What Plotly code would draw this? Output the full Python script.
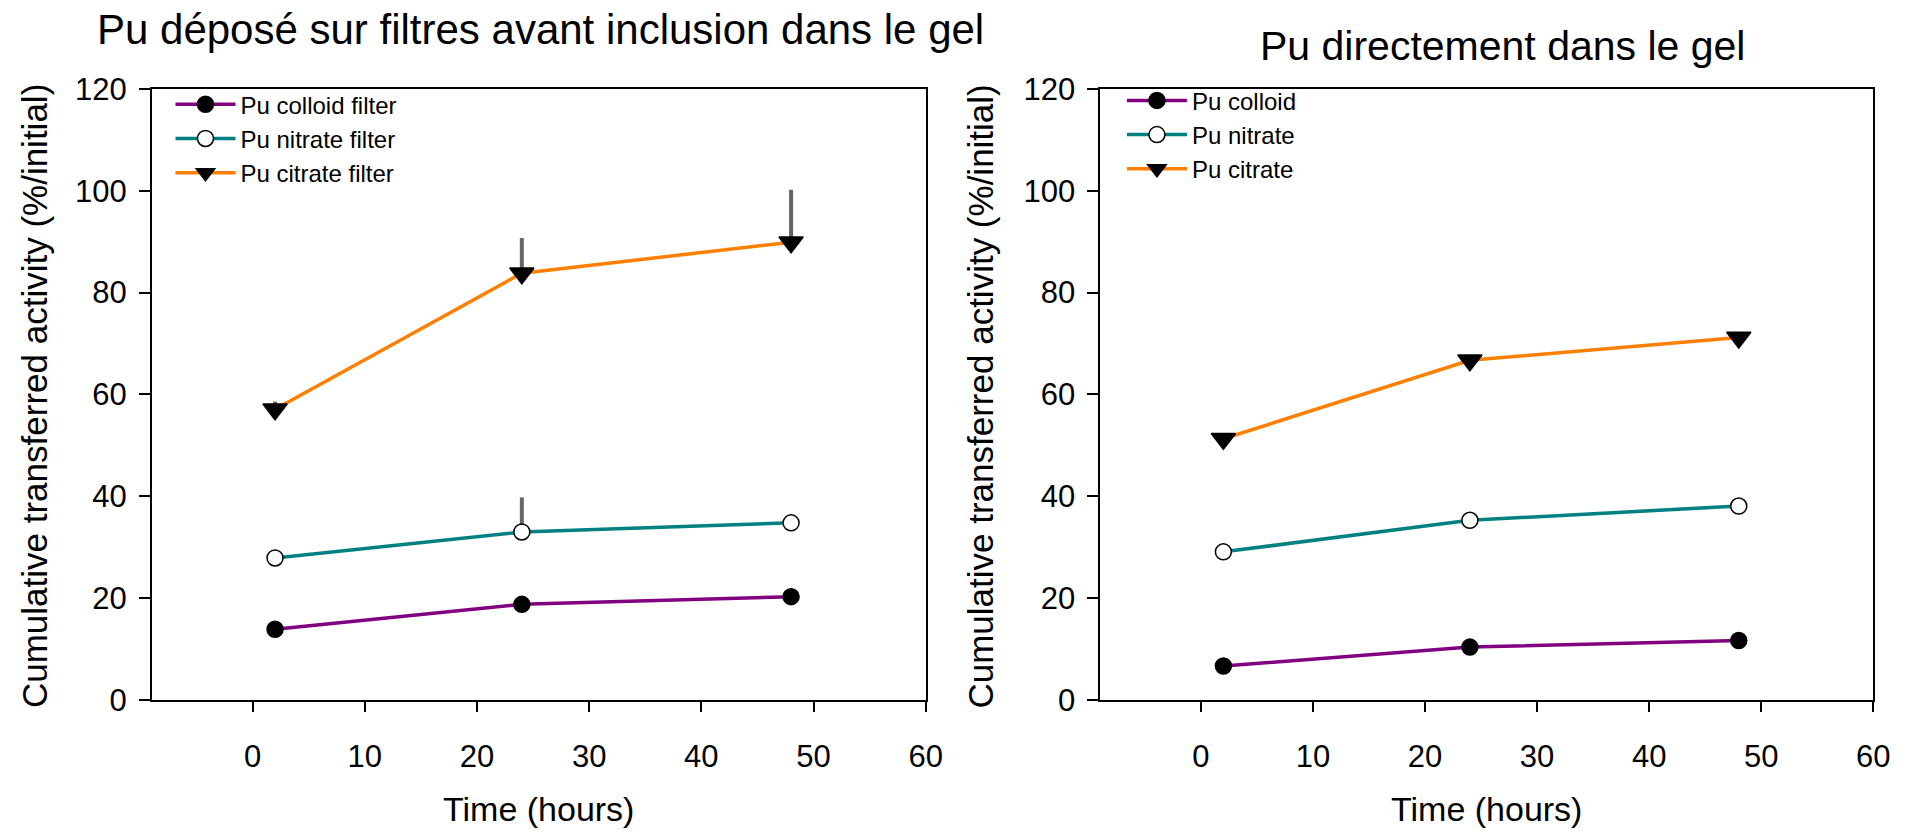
import plotly.graph_objects as go

# Sampling times (hours)
time_h = [2, 24, 48]

# Pu deposited on filters before inclusion in the gel
colloid_filter = [13.9, 18.8, 20.3]
nitrate_filter = [27.9, 33.0, 34.8]
citrate_filter = [57.1, 83.8, 89.9]
nitrate_filter_err = [0, 6.8, 0]
citrate_filter_err = [1.5, 6.9, 10.3]

# Pu added directly in the gel
colloid_gel = [6.7, 10.4, 11.7]
nitrate_gel = [29.1, 35.3, 38.1]
citrate_gel = [51.3, 66.7, 71.2]

x_ticks = [0, 10, 20, 30, 40, 50, 60]
y_ticks = [0, 20, 40, 60, 80, 100, 120]

PURPLE = "#800080"
TEAL = "#008080"
ORANGE = "#FF8000"
FONT = "Liberation Sans, Arial, sans-serif"

W, H = 1913, 834

fig = go.Figure()


def add_series(x, y, name, color, symbol, fill, xa, ya, legend, err=None):
    kw = {}
    if err is not None:
        kw["error_y"] = dict(type="data", array=err, arrayminus=[0] * len(err),
                             symmetric=False, width=0, thickness=4,
                             color="#666666")
    size = 21 if symbol == "triangle-down" else 16
    fig.add_trace(go.Scatter(
        x=x, y=y, name=name, mode="lines+markers",
        line=dict(color=color, width=3.5),
        marker=dict(symbol=symbol, size=size, color=fill,
                    line=dict(color="black", width=1.5)),
        xaxis=xa, yaxis=ya, legend=legend, **kw))


add_series(time_h, colloid_filter, "Pu colloid filter", PURPLE, "circle", "black", "x", "y", "legend")
add_series(time_h, nitrate_filter, "Pu nitrate filter", TEAL, "circle", "white", "x", "y", "legend",
           nitrate_filter_err)
add_series(time_h, citrate_filter, "Pu citrate filter", ORANGE, "triangle-down", "black", "x", "y", "legend",
           citrate_filter_err)

add_series(time_h, colloid_gel, "Pu colloid", PURPLE, "circle", "black", "x2", "y2", "legend2")
add_series(time_h, nitrate_gel, "Pu nitrate", TEAL, "circle", "white", "x2", "y2", "legend2")
add_series(time_h, citrate_gel, "Pu citrate", ORANGE, "triangle-down", "black", "x2", "y2", "legend2")

# plot-area pixel boxes
left_box = (153, 934)
right_box = (1110, 1890)
top_px, bottom_px = 75, 713

xdom1 = [left_box[0] / W, left_box[1] / W]
xdom2 = [right_box[0] / W, right_box[1] / W]
ydom = [1 - bottom_px / H, 1 - top_px / H]

xaxis_common = dict(range=[-9, 60], tickvals=x_ticks, ticks="outside", ticklen=10,
                    tickwidth=1.5, tickcolor="black", showline=True, linecolor="black",
                    linewidth=1.5, mirror=True, showgrid=False, zeroline=False,
                    tickfont=dict(size=31, color="black", family=FONT),
                    ticklabelstandoff=18)
yaxis_common = dict(range=[0, 120], tickvals=y_ticks, ticks="outside", ticklen=11,
                    tickwidth=1.5, tickcolor="black", showline=True, linecolor="black",
                    linewidth=1.5, mirror=True, showgrid=False, zeroline=False,
                    tickfont=dict(size=31, color="black", family=FONT),
                    ticklabelstandoff=6)

legend_common = dict(font=dict(size=24, color="black", family=FONT),
                     bgcolor="rgba(0,0,0,0)", borderwidth=0, xanchor="left",
                     yanchor="top", itemwidth=60, tracegroupgap=0)

fig.update_layout(
    width=W, height=H,
    margin=dict(l=0, r=0, t=0, b=0),
    paper_bgcolor="white", plot_bgcolor="white",
    font=dict(family=FONT, color="black"),
    xaxis=dict(domain=xdom1, anchor="y", **xaxis_common),
    yaxis=dict(domain=ydom, anchor="x", **yaxis_common),
    xaxis2=dict(domain=xdom2, anchor="y2", **xaxis_common),
    yaxis2=dict(domain=ydom, anchor="x2", **yaxis_common),
    legend=dict(x=172 / W, y=1 - 68 / H, **legend_common),
    legend2=dict(x=1132 / W, y=1 - 64 / H, **legend_common),
)

annotations = [
    dict(text="Pu déposé sur filtres avant inclusion dans le gel", x=545 / W, y=1 - 13 / H,
         font=dict(size=42)),
    dict(text="Pu directement dans le gel", x=1516 / W, y=1 - 30 / H, font=dict(size=41)),
    dict(text="Time (hours)", x=543 / W, y=1 - 827 / H, font=dict(size=34)),
    dict(text="Time (hours)", x=1500 / W, y=1 - 827 / H, font=dict(size=34)),
    dict(text="Cumulative transferred activity (%/initial)", x=35 / W, y=1 - 396 / H,
         textangle=-90, font=dict(size=35)),
    dict(text="Cumulative transferred activity (%/initial)", x=989 / W, y=1 - 396 / H,
         textangle=-90, font=dict(size=35)),
]
for a in annotations:
    a.update(xref="paper", yref="paper", showarrow=False, xanchor="center", yanchor="middle")
    a["font"].update(family=FONT, color="black")
    fig.add_annotation(**a)

fig.write_html("out.html")
